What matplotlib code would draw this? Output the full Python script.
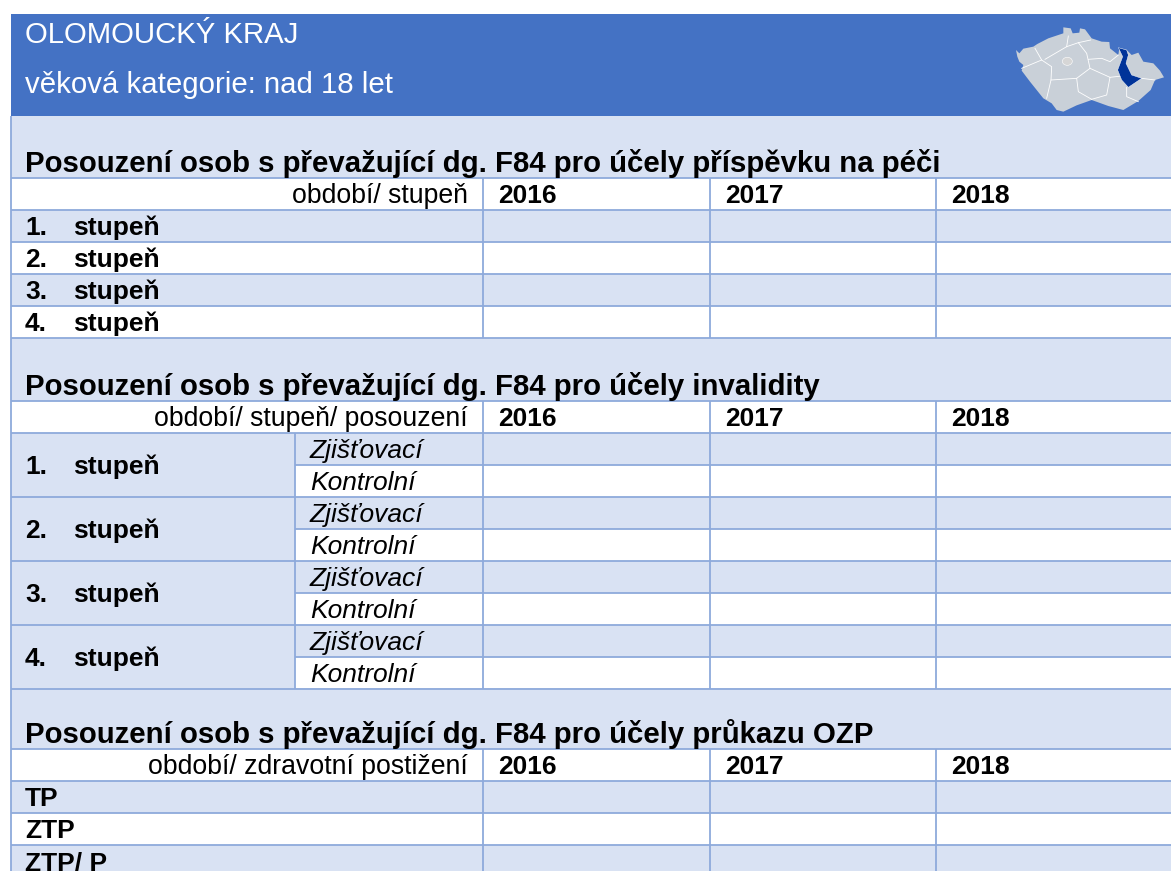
import matplotlib
matplotlib.use('Agg')
import matplotlib.pyplot as plt
from matplotlib.patches import Rectangle, Polygon, Ellipse

plt.rcParams['font.family'] = ['Liberation Sans', 'DejaVu Sans']

title_lines = ['OLOMOUCKÝ KRAJ', 'věková kategorie: nad 18 let']
years = ['2016', '2017', '2018']
section_titles = ['Posouzení osob s převažující dg. F84 pro účely příspěvku na péči',
                  'Posouzení osob s převažující dg. F84 pro účely invalidity',
                  'Posouzení osob s převažující dg. F84 pro účely průkazu OZP']
header_labels = ['období/ stupeň', 'období/ stupeň/ posouzení', 'období/ zdravotní postižení']
degree_numbers = ['1.', '2.', '3.', '4.']
degree_word = 'stupeň'
review_types = ['Zjišťovací', 'Kontrolní']
ozp_labels = ['TP', 'ZTP', 'ZTP/ P']

BLUE = '#4472c4'
LIGHT = '#d9e2f3'
LINE = '#8eaadb'
FS = 19
FS_HEADER = 19.2
FS_BIG = 21.15

# sloupce a radky v pixelech
LEFT, RIGHT = 11, 1171
SUB_X = 295
YEAR_X = [483, 710, 936]
HEAD_TOP, HEAD_BOTTOM = 14, 116
SEC1_BAND = (116, 178)
SEC2_BAND = (338, 401)
SEC3_BAND = (688, 749)
ROW_H = 32

fig = plt.figure(figsize=(11.71, 8.71), dpi=100)
ax = fig.add_axes([0, 0, 1, 1])
ax.set_xlim(0, 1171)
ax.set_ylim(871, 0)
ax.axis('off')


def fill(x0, x1, y0, y1, color):
    ax.add_patch(Rectangle((x0, y0), x1 - x0, y1 - y0, fc=color, ec='none', zorder=1))


def hline(y, x0=LEFT, x1=RIGHT):
    ax.plot([x0, x1], [y, y], color=LINE, lw=1.3, zorder=2, solid_capstyle='butt')


def vline(x, y0, y1):
    ax.plot([x, x], [y0, y1], color=LINE, lw=1.3, zorder=2, solid_capstyle='butt')


def label(x, y, s, **kw):
    ax.text(x, y, s, fontsize=kw.pop('fontsize', FS), color=kw.pop('color', 'black'),
            va='baseline', zorder=3, **kw)


def section(band, title, header):
    fill(LEFT, RIGHT, band[0], band[1], LIGHT)
    hline(band[1])
    label(25, band[1] - 6, title, fontweight='bold', fontsize=FS_BIG)
    top = band[1]
    hline(top + ROW_H)
    label(468, top + 25, header, ha='right', fontsize=FS_HEADER)
    for x, year in zip(YEAR_X, years):
        label(x + 15, top + 25, year, fontweight='bold')
    return top + ROW_H


# hlavicka
fill(LEFT, RIGHT, HEAD_TOP, HEAD_BOTTOM, BLUE)
label(25, 43, title_lines[0], color='white', fontsize=FS_BIG)
label(25, 93, title_lines[1], color='white', fontsize=FS_BIG)

# mapa kraje
czech = [(108, 150), (118, 160), (130, 146), (160, 140), (172, 132), (205, 115), (250, 100), (250, 82),
         (272, 85), (278, 100), (298, 98), (300, 85), (315, 88), (335, 115), (365, 125), (388, 126),
         (390, 145), (415, 165), (418, 145), (440, 150), (455, 165), (475, 158), (490, 185), (520, 190),
         (540, 212), (552, 232), (525, 240), (512, 270), (475, 303), (430, 330), (385, 318), (335, 300),
         (290, 316), (250, 335), (230, 330), (215, 310), (190, 295), (150, 245), (125, 212), (130, 195),
         (118, 185), (112, 170)]
olomouc = [(415, 143), (440, 150), (445, 165), (438, 190), (455, 225), (485, 235), (445, 262),
           (425, 240), (413, 210), (428, 170)]
borders = [[(165, 145), (185, 180), (125, 205)],
           [(185, 180), (215, 200), (213, 240), (200, 295)],
           [(195, 178), (260, 140), (295, 128), (320, 160), (330, 205), (290, 235), (213, 240)],
           [(260, 140), (265, 108)],
           [(295, 128), (332, 120)],
           [(325, 178), (365, 175), (390, 185), (415, 165)],
           [(330, 205), (390, 232), (380, 285), (335, 298)],
           [(290, 235), (295, 275), (335, 298)],
           [(390, 232), (425, 228)],
           [(440, 262), (440, 290), (475, 305)],
           [(485, 235), (525, 240)]]


def map_xy(points):
    return [(980 + x / 3, y / 3) for x, y in points]


ax.add_patch(Polygon(map_xy(czech), fc='#c9d0d8', ec='none', zorder=2))
for line in borders:
    xy = map_xy(line)
    ax.plot([p[0] for p in xy], [p[1] for p in xy], color='white', lw=0.6, zorder=3)
ax.add_patch(Ellipse((980 + 262 / 3, 184 / 3), 10, 8, fc='#d6d6d6', ec='white', lw=0.4, zorder=3))
ax.add_patch(Polygon(map_xy(olomouc), fc='#003399', ec='white', lw=0.3, zorder=4))

# prvni tabulka
y = section(SEC1_BAND, section_titles[0], header_labels[0])
sec1_top = y - ROW_H
for i, num in enumerate(degree_numbers):
    if i % 2 == 0:
        fill(LEFT, RIGHT, y, y + ROW_H, LIGHT)
    label(25, y + 24.5, num, fontweight='bold')
    label(73, y + 24.5, degree_word, fontweight='bold')
    hline(y + ROW_H)
    y += ROW_H
for x in YEAR_X:
    vline(x, sec1_top, y)

# druha tabulka
y = section(SEC2_BAND, section_titles[1], header_labels[1])
sec2_top = y - ROW_H
for i, num in enumerate(degree_numbers):
    fill(LEFT, SUB_X, y, y + 2 * ROW_H, LIGHT)
    fill(SUB_X, RIGHT, y, y + ROW_H, LIGHT)
    label(25, y + 41, num, fontweight='bold')
    label(73, y + 41, degree_word, fontweight='bold')
    label(310, y + 25, review_types[0], fontstyle='italic')
    label(310, y + ROW_H + 25, review_types[1], fontstyle='italic')
    hline(y + ROW_H, SUB_X)
    hline(y + 2 * ROW_H)
    vline(SUB_X, y, y + 2 * ROW_H)
    y += 2 * ROW_H
for x in YEAR_X:
    vline(x, sec2_top, y)

# treti tabulka
y = section(SEC3_BAND, section_titles[2], header_labels[2])
sec3_top = y - ROW_H
for i, name in enumerate(ozp_labels):
    if i % 2 == 0:
        fill(LEFT, RIGHT, y, min(y + ROW_H, 871), LIGHT)
    label(25, y + 25, name, fontweight='bold')
    if y + ROW_H < 871:
        hline(y + ROW_H)
    y += ROW_H
for x in YEAR_X:
    vline(x, sec3_top, 871)

# leva hrana
vline(LEFT, HEAD_BOTTOM, 871)

fig.savefig('out.png', dpi=100)
